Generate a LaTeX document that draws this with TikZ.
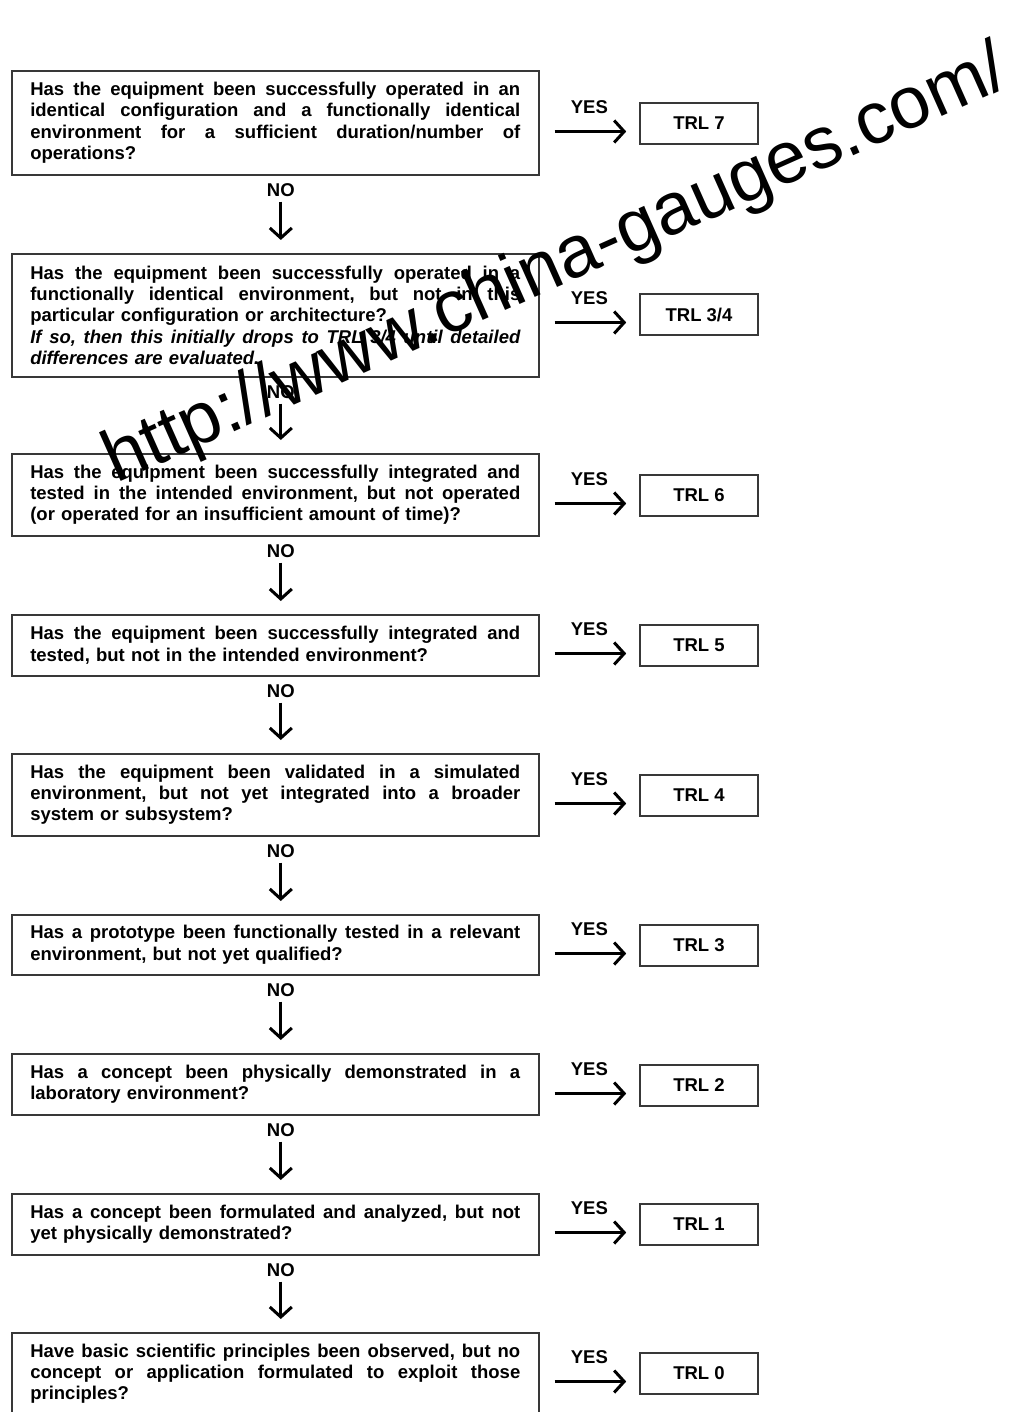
\documentclass[tikz,border=0pt]{standalone}
\usepackage{fontspec}
\setmainfont{Liberation Sans}
\usetikzlibrary{arrows.meta}
\newcommand\jl[1]{\leavevmode\hbox to 490pt{\spaceskip=0.278em plus 1fil\relax\xspaceskip=\spaceskip #1}}
\newcommand\qfont{\fontsize{18.5}{21.3}\selectfont\bfseries\frenchspacing}
\tikzset{
  qbox/.style={draw=black!78, line width=1.6pt, text width=490pt, inner xsep=18.5pt,
    inner ysep=0pt, align=left, anchor=north west, font=\qfont},
  tbox/.style={draw=black!78, line width=1.6pt, minimum width=118pt, minimum height=41pt,
    inner sep=0pt, font=\qfont},
  yesarr/.style={line width=3pt, -{Straight Barb[length=10pt,width=22pt]},
    shorten <=15pt, shorten >=13pt},
  noarr/.style={line width=3pt, -{Straight Barb[length=10pt,width=22pt]},
    shorten <=26pt, shorten >=13pt},
  lbl/.style={font=\qfont, inner sep=0pt},
  wmark/.style={font=\fontsize{73.5}{73.5}\selectfont, inner sep=0pt, anchor=base west, rotate=24}
}
\begin{document}
\begin{tikzpicture}[x=1pt,y=-1pt]
\useasboundingbox[fill=white] (0,0) rectangle (1023,1412);

% question boxes
\node[qbox, minimum height=104pt] (q1) at (11,70) {%
\jl{Has the equipment been successfully operated in an}\\
\jl{identical configuration and a functionally identical}\\
\jl{environment for a sufficient duration/number of}\\
operations?};
\node[qbox, minimum height=123pt] (q2) at (11,253) {%
\jl{Has the equipment been successfully operated in a}\\
\jl{functionally identical environment, but not in this}\\
particular configuration or architecture?\\
\jl{\itshape If so, then this initially drops to TRL 3/4 until detailed}\\
{\itshape differences are evaluated.}};
\node[qbox, minimum height=82pt] (q3) at (11,453) {%
\jl{Has the equipment been successfully integrated and}\\
\jl{tested in the intended environment, but not operated}\\
(or operated for an insufficient amount of time)?};
\node[qbox, minimum height=61pt] (q4) at (11,614) {%
\jl{Has the equipment been successfully integrated and}\\
tested, but not in the intended environment?};
\node[qbox, minimum height=82pt] (q5) at (11,753) {%
\jl{Has the equipment been validated in a simulated}\\
\jl{environment, but not yet integrated into a broader}\\
system or subsystem?};
\node[qbox, minimum height=60pt] (q6) at (11,914) {%
\jl{Has a prototype been functionally tested in a relevant}\\
environment, but not yet qualified?};
\node[qbox, minimum height=61pt] (q7) at (11,1053) {%
\jl{Has a concept been physically demonstrated in a}\\
laboratory environment?};
\node[qbox, minimum height=61pt] (q8) at (11,1193) {%
\jl{Has a concept been formulated and analyzed, but not}\\
yet physically demonstrated?};
\node[qbox, minimum height=82pt] (q9) at (11,1332) {%
\jl{Have basic scientific principles been observed, but no}\\
\jl{concept or application formulated to exploit those}\\
principles?};

% TRL boxes
\node[tbox] (t1) at (699,123.5) {TRL 7};
\node[tbox] (t2) at (699,314.5) {TRL 3/4};
\node[tbox] (t3) at (699,495.5) {TRL 6};
\node[tbox] (t4) at (699,645.5) {TRL 5};
\node[tbox] (t5) at (699,795.5) {TRL 4};
\node[tbox] (t6) at (699,945.5) {TRL 3};
\node[tbox] (t7) at (699,1085.5) {TRL 2};
\node[tbox] (t8) at (699,1224.5) {TRL 1};
\node[tbox] (t9) at (699,1373.5) {TRL 0};

% YES arrows
\foreach \i in {1,...,9}{
  \path ([yshift=-8pt]t\i.west) coordinate (e\i);
  \draw[yesarr] (q\i.east |- e\i) -- (e\i)
    node[lbl, midway, yshift=24pt] {YES};
}

% NO arrows
\foreach \i/\j in {1/2,2/3,3/4,4/5,5/6,6/7,7/8,8/9}{
  \draw[noarr] ([xshift=5.5pt]q\i.south) -- ([xshift=5.5pt]q\j.north)
    node[lbl, at start, yshift=-15pt] {NO};
}

% watermark
\node[wmark] (wm) at (116,484) {http://www.china-gauges.com/};
\end{tikzpicture}
\end{document}
